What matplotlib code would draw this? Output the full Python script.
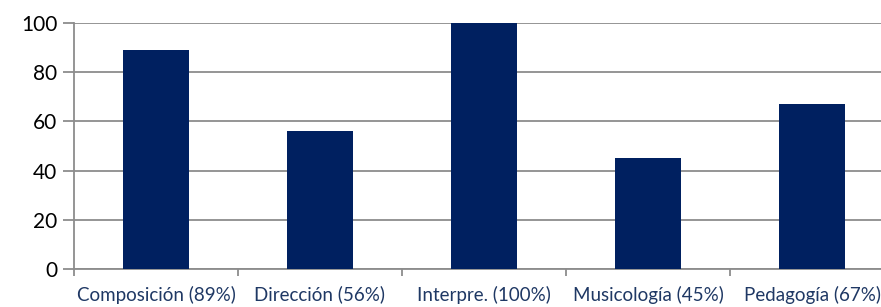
import matplotlib
matplotlib.use('Agg')
import matplotlib.pyplot as plt
import numpy as np

categories = ['Composición (89%)', 'Dirección (56%)', 'Interpre. (100%)',
              'Musicología (45%)', 'Pedagogía (67%)']
values = [89, 56, 100, 45, 67]

plt.rcParams['font.family'] = ['Lato', 'DejaVu Sans']

fig = plt.figure(figsize=(8.81, 3.07), dpi=100)
ax = fig.add_axes([74 / 881, 1 - 269 / 307, 820 / 881, 246 / 307])

x = np.arange(len(categories))
ax.bar(x, values, width=0.40, color='#002060', zorder=3)

ax.set_xlim(-0.5, len(categories) - 0.5)
ax.set_ylim(0, 100)
ax.set_yticks(range(0, 101, 20))
ax.yaxis.grid(True, color='#8c8c8c', linewidth=1.3, zorder=0)
ax.tick_params(axis='y', length=8, width=1.3, color='#8c8c8c',
               labelsize=15, pad=4, labelcolor='black')

# labels centered under bars, ticks at category boundaries
ax.set_xticks(x)
ax.set_xticklabels(categories, fontsize=13.5, color='#1f3864')
ax.set_xticks(np.arange(-0.5, len(categories) + 0.5, 1), minor=True)
ax.tick_params(axis='x', which='major', length=0, pad=12)
ax.tick_params(axis='x', which='minor', length=5, width=1.3, color='#8c8c8c')

for side in ['top', 'right']:
    ax.spines[side].set_visible(False)
for side in ['left', 'bottom']:
    ax.spines[side].set_color('#8c8c8c')
    ax.spines[side].set_linewidth(1.3)

fig.savefig('out.png', dpi=100)
